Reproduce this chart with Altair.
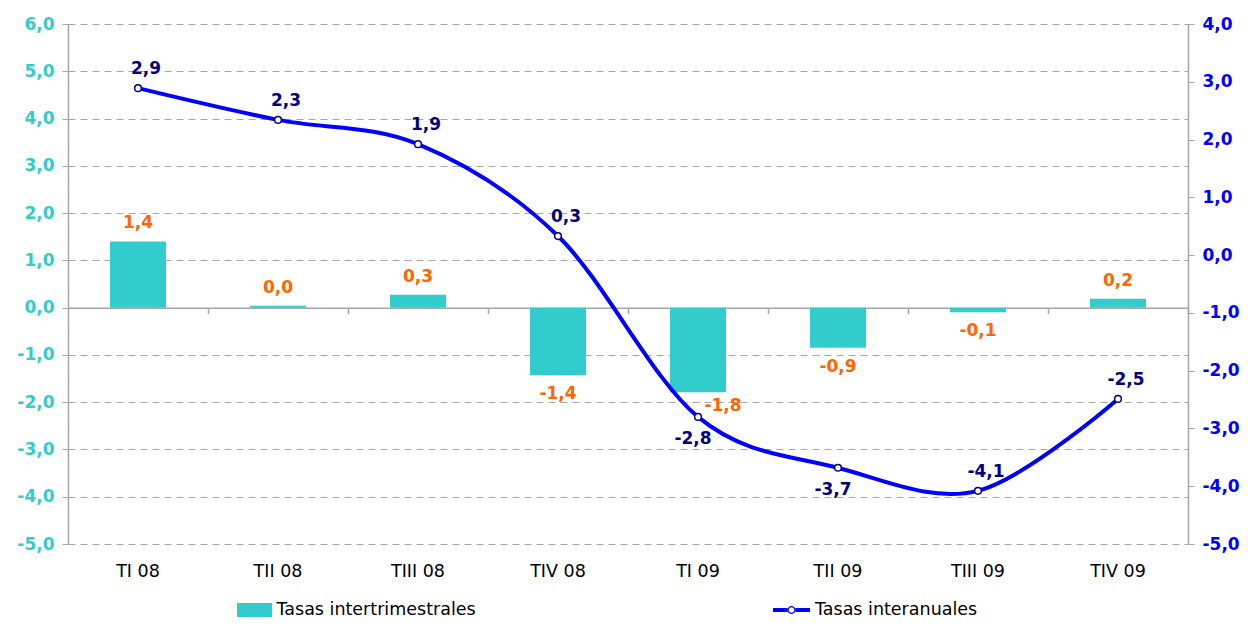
import altair as alt
import pandas as pd

# ---------------- data ----------------
categories = ["TI 08", "TII 08", "TIII 08", "TIV 08", "TI 09", "TII 09", "TIII 09", "TIV 09"]
tasas_intertrimestrales = [1.40, 0.04, 0.27, -1.43, -1.79, -0.85, -0.10, 0.19]
etiquetas_intertrimestrales = ["1,4", "0,0", "0,3", "-1,4", "-1,8", "-0,9", "-0,1", "0,2"]
tasas_interanuales = [2.89, 2.34, 1.92, 0.33, -2.80, -3.68, -4.08, -2.49]
etiquetas_interanuales = ["2,9", "2,3", "1,9", "0,3", "-2,8", "-3,7", "-4,1", "-2,5"]
left_ticks = [-5, -4, -3, -2, -1, 0, 1, 2, 3, 4, 5, 6]
right_ticks = [-5, -4, -3, -2, -1, 0, 1, 2, 3, 4]
serie_barras = "Tasas intertrimestrales"
serie_linea = "Tasas interanuales"

# ---------------- style ----------------
TEAL = "#33CCCC"
BLUE = "#0000FF"
NAVY = "#000080"
ORANGE = "#FF6600"
GRAY = "#A6A6A6"
FONT = "DejaVu Sans"
W, H = 1120, 520
STEP = W / len(categories)
LEFT_DOMAIN = [-5, 6]
RIGHT_DOMAIN = [-5, 4]
line_labels_below = ["TI 09", "TII 09"]
bar_label_special = {"TI 09": (25, 14)}

# legend symbol for the line series: thick line with an open circle in the middle
LINE_SYMBOL = (
    "M-1,-0.108H-0.216V0.108H-1Z "
    "M0.216,-0.108H1V0.108H0.216Z "
    "M0.216,0A0.216,0.216 0 1,1 -0.216,0A0.216,0.216 0 1,1 0.216,0Z "
    "M0.151,0A0.151,0.151 0 1,0 -0.151,0A0.151,0.151 0 1,0 0.151,0Z"
)

df = pd.DataFrame({
    "cat": categories,
    "trim": tasas_intertrimestrales,
    "trim_label": etiquetas_intertrimestrales,
    "anual": tasas_interanuales,
    "anual_label": etiquetas_interanuales,
    "serie_t": serie_barras,
    "serie_a": serie_linea,
})

fmt = "(datum.value < 0 ? '-' : '') + replace(format(abs(datum.value), '.1f'), '.', ',')"

xscale = alt.Scale(domain=categories, paddingInner=0.6, paddingOuter=0.3)
yl_scale = alt.Scale(domain=LEFT_DOMAIN, nice=False, zero=False)
yr_scale = alt.Scale(domain=RIGHT_DOMAIN, nice=False, zero=False)

x_labels_axis = alt.Axis(orient="bottom", domain=False, ticks=False, labelAngle=0,
                         labelFont=FONT, labelFontSize=17.5, labelColor="black",
                         labelPadding=18, title=None, grid=False)
zero_offset = -H * (0 - LEFT_DOMAIN[0]) / (LEFT_DOMAIN[1] - LEFT_DOMAIN[0])
x_zero_axis = alt.Axis(orient="bottom", offset=zero_offset, domain=True, domainColor=GRAY,
                       domainWidth=1.5, ticks=True, tickColor=GRAY, tickOffset=STEP / 2,
                       tickSize=6, tickWidth=1.5, labels=False, title=None, grid=False)

left_axis = alt.Axis(orient="left", values=left_ticks, labelExpr=fmt, labelFont=FONT,
                     labelFontWeight="bold", labelFontSize=17, labelColor=TEAL,
                     domainColor=GRAY, domainWidth=1.5, tickColor=GRAY, tickSize=6,
                     labelPadding=8, grid=True, gridColor=GRAY,
                     gridDash=alt.ConditionalAxisNumberArray(
                         condition={"test": "datum.value === 0", "value": []}, value=[7, 5]),
                     gridWidth=1, title=None)
right_axis = alt.Axis(orient="right", values=right_ticks, labelExpr=fmt, labelFont=FONT,
                      labelFontWeight="bold", labelFontSize=17, labelColor=BLUE,
                      domainColor=GRAY, domainWidth=1.5, tickColor=GRAY, tickSize=6,
                      labelPadding=8, grid=False, title=None)

base = alt.Chart(df)

# ---------------- bars (left scale) ----------------
bars = base.mark_bar(strokeWidth=0).encode(
    x=alt.X("cat:N", scale=xscale, axis=x_labels_axis),
    y=alt.Y("trim:Q", scale=yl_scale, axis=left_axis),
    fill=alt.Fill("serie_t:N", scale=alt.Scale(domain=[serie_barras], range=[TEAL]),
                  legend=alt.Legend(title=None, orient="none", legendX=172.5, legendY=572,
                                    symbolType="M-1.25,-0.5H1.25V0.5H-1.25Z", symbolSize=784,
                                    symbolStrokeWidth=0, labelFont=FONT, labelFontSize=17.5,
                                    labelColor="black", labelOffset=8, labelLimit=0,
                                    padding=0)),
)

def bar_text(filter_expr, dx, dy):
    return base.transform_filter(filter_expr).mark_text(
        font=FONT, fontSize=17, fontWeight="bold", color=ORANGE, dx=dx, dy=dy,
        baseline="middle", align="center",
    ).encode(
        x=alt.X("cat:N", scale=xscale, axis=None),
        y=alt.Y("trim:Q", scale=yl_scale, axis=None),
        text="trim_label:N",
    )

special_list = list(bar_label_special.keys())
not_special = "indexof(" + str(special_list) + ", datum.cat) < 0"
bar_layers = [bars,
              bar_text(f"datum.trim >= 0 && {not_special}", 0, -18),
              bar_text(f"datum.trim < 0 && {not_special}", 0, 19)]
for cat, (dx, dy) in bar_label_special.items():
    bar_layers.append(bar_text(f"datum.cat == '{cat}'", dx, dy))

# ---------------- line (right scale) ----------------
line = base.mark_line(strokeWidth=4, interpolate="cardinal", color=BLUE).encode(
    x=alt.X("cat:N", scale=xscale, axis=x_zero_axis),
    y=alt.Y("anual:Q", scale=yr_scale, axis=right_axis),
)

points = base.mark_point(filled=True, fill="white", stroke=NAVY, strokeWidth=1.5,
                         size=45, opacity=1).encode(
    x=alt.X("cat:N", scale=xscale, axis=None),
    y=alt.Y("anual:Q", scale=yr_scale, axis=None),
)

# legend entry for the line series (no marks drawn: the layer carries only the legend)
line_legend = base.transform_filter("false").mark_point(filled=True, opacity=1).encode(
    x=alt.X("cat:N", scale=xscale, axis=None),
    y=alt.Y("anual:Q", scale=yr_scale, axis=None),
    fill=alt.Fill("serie_a:N", scale=alt.Scale(domain=[serie_linea], range=[BLUE]),
                  legend=alt.Legend(title=None, orient="none", legendX=705, legendY=567.5,
                                    symbolType=LINE_SYMBOL, symbolSize=1369,
                                    symbolStrokeWidth=0, symbolOpacity=1,
                                    labelFont=FONT, labelFontSize=17.5, labelLimit=0,
                                    labelColor="black", labelOffset=5, padding=0)),
)

def line_text(filter_expr, dx, dy):
    return base.transform_filter(filter_expr).mark_text(
        font=FONT, fontSize=17, fontWeight="bold", color=NAVY, dx=dx, dy=dy,
        baseline="middle", align="center",
    ).encode(
        x=alt.X("cat:N", scale=xscale, axis=None),
        y=alt.Y("anual:Q", scale=yr_scale, axis=None),
        text="anual_label:N",
    )

below = "indexof(" + str(line_labels_below) + ", datum.cat) >= 0"
line_layers = [line, points,
               line_text(f"!({below})", 8, -19),
               line_text(below, -5, 22),
               line_legend]

chart = alt.layer(*bar_layers, *line_layers).resolve_scale(
    y="independent", fill="independent"
).resolve_axis(
    x="independent", y="independent"
).properties(
    width=W, height=H,
    autosize=alt.AutoSizeParams(type="none"),
    padding={"left": 60, "top": 16, "right": 52, "bottom": 80},
).configure_view(stroke=None)

chart.save("out.html", embed_options={"renderer": "svg", "actions": False})
